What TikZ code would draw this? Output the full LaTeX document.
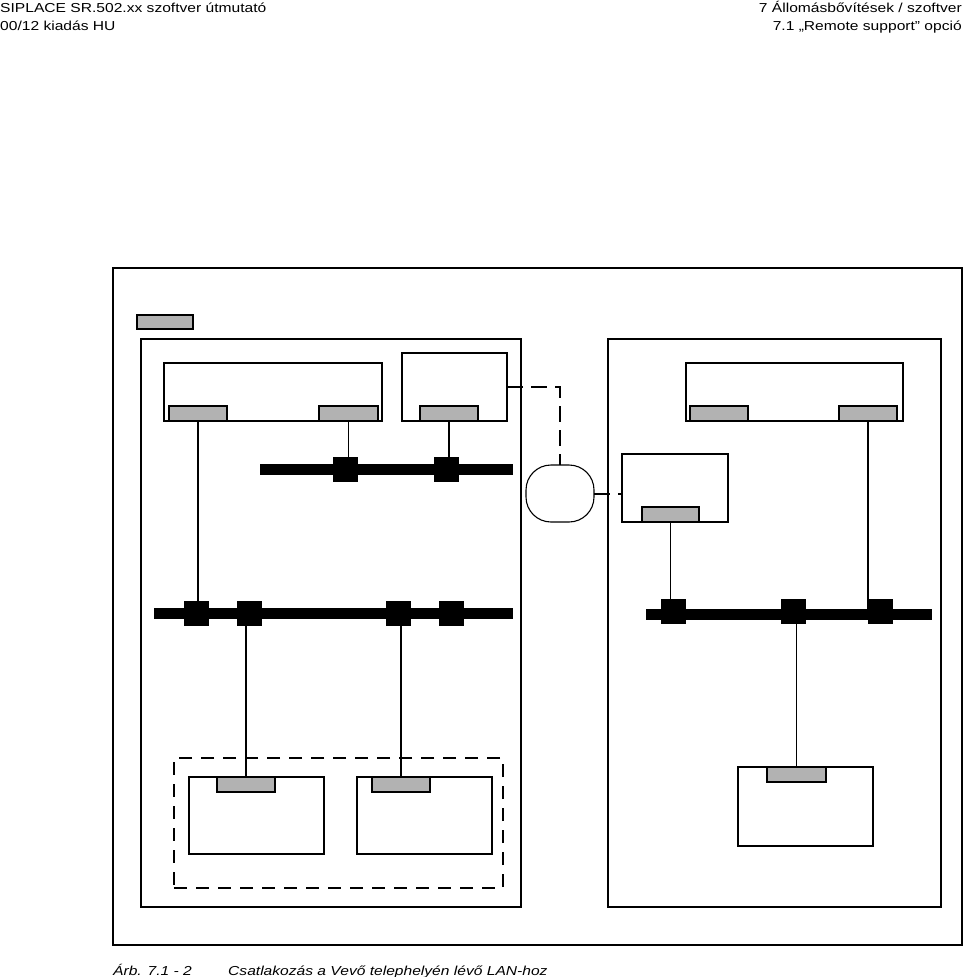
\documentclass[tikz,border=0pt]{standalone}
\usepackage{fontspec}
\setmainfont{Liberation Sans}
\newfontfamily\hdrfont[FakeStretch=1.2]{Liberation Sans}
\begin{document}
\begin{tikzpicture}[x=1pt,y=-1pt,
  thin line/.style={line width=1.3pt},
  frame/.style={draw, line width=1.3pt, inner sep=0pt, outer sep=0pt, fill=white},
  port/.style={draw, line width=1.3pt, inner sep=0pt, outer sep=0pt, fill=black!30},
  bus/.style={fill=black, inner sep=0pt, outer sep=0pt},
  junction/.style={fill=black, inner sep=0pt, outer sep=0pt},
  groupbox/.style={draw, line width=1.3pt, dash pattern=on 13pt off 9pt, inner sep=0pt, outer sep=0pt},
  dashlink/.style={line width=2pt, dash pattern=on 16pt off 8pt},
  txt/.style={inner sep=0pt, font=\hdrfont\fontsize{13}{15}\selectfont}
]
\newcommand{\rbox}[6]{\node[#6, minimum width={(#4)-(#2)}, minimum height={(#5)-(#3)}] (#1) at ({((#2)+(#4))/2},{((#3)+(#5))/2}) {};}
\useasboundingbox (0,0) rectangle (964,977);

% header
\node[txt, anchor=base west] (hl1) at (0,12.5) {SIPLACE SR.502.xx szoftver útmutató};
\node[txt, anchor=base west] (hl2) at (0,30) {00/12 kiadás HU};
\node[txt, anchor=base east] (hr1) at (962,12.5) {7 Állomásbővítések / szoftver};
\node[txt, anchor=base east] (hr2) at (962,30) {7.1 „Remote support” opció};

% outer frame and legend
\rbox{outer}{113}{268}{962}{945}{frame}
\rbox{legend}{137}{315}{193}{329}{port}

% site boxes
\rbox{siteL}{141}{339}{521}{907}{frame}
\rbox{siteR}{608}{339}{941}{907}{frame}

% left top device
\rbox{devA}{164}{363}{382}{421}{frame}
\rbox{pA1}{169}{406}{227}{421}{port}
\rbox{pA2}{319}{406}{378}{421}{port}
% small device
\rbox{devB}{402}{353}{507}{421}{frame}
\rbox{pB}{420}{406}{478}{421}{port}

% dashed group with two devices
\rbox{grp}{174}{758}{503}{888}{groupbox}
\rbox{devC}{189}{777}{324}{854}{frame}
\rbox{pC}{217}{777}{275}{792}{port}
\rbox{devD}{357}{777}{492}{854}{frame}
\rbox{pD}{372}{777}{430}{792}{port}

% right side devices
\rbox{devE}{686}{363}{903}{421}{frame}
\rbox{pE1}{690}{406}{748}{421}{port}
\rbox{pE2}{839}{406}{897}{421}{port}
\rbox{devF}{622}{454}{728}{522}{frame}
\rbox{pF}{642}{507}{699}{522}{port}
\rbox{devG}{738}{767}{873}{846}{frame}
\rbox{pG}{767}{767}{826}{782}{port}

% oval (WAN)
\node[draw, line width=1.1pt, rounded corners=25pt, minimum width=68pt, minimum height=57pt, inner sep=0pt, outer sep=0pt] (wan) at (560,493.5) {};

% buses
\rbox{busU}{260}{463.5}{513}{474.5}{bus}
\rbox{busL}{154}{608}{513}{619}{bus}
\rbox{busR}{646}{608.5}{932}{619.5}{bus}

% junction block positions
\coordinate (cU1) at (345.5,469);
\coordinate (cU2) at (446.5,469);
\coordinate (cL1) at (196.5,613);
\coordinate (cL2) at (249,613);
\coordinate (cL3) at (398,613);
\coordinate (cL4) at (451.5,613);
\coordinate (cR1) at (673.5,611.5);
\coordinate (cR2) at (793.5,611.5);
\coordinate (cR3) at (880.5,611.5);

% connectors
\draw[thin line] (pA1.south) -- (pA1.south |- cL1);
\draw[thin line] (pA2.south) -- (pA2.south |- cU1);
\draw[thin line] (pB.south) -- (pB.south |- cU2);
\draw[thin line] (pC.north) -- (pC.north |- cL2);
\draw[thin line] (pD.north) -- (pD.north |- cL3);
\draw[thin line] (pF.south) -- (pF.south |- cR1);
\draw[thin line] (pE2.south) -- (pE2.south |- cR3);
\draw[thin line] (pG.north) -- (pG.north |- cR2);

% junction blocks
\foreach \c in {cU1,cU2,cL1,cL2,cL3,cL4,cR1,cR2,cR3}
  \node[junction, minimum width=25pt, minimum height=25pt] (j\c) at (\c) {};

% dashed links
\draw[dashlink] (devB.east) -| (wan.north);
\draw[dashlink] (wan.east) -- (wan.east -| devF.west);

% caption
\node[txt, anchor=base west, font=\hdrfont\fontsize{13}{15}\selectfont\itshape] (cap1) at (113,975) {Árb. 7.1 - 2};
\node[txt, anchor=base west, font=\hdrfont\fontsize{13}{15}\selectfont\itshape] (cap2) at (228,975) {Csatlakozás a Vevő telephelyén lévő LAN-hoz};
\end{tikzpicture}
\end{document}
